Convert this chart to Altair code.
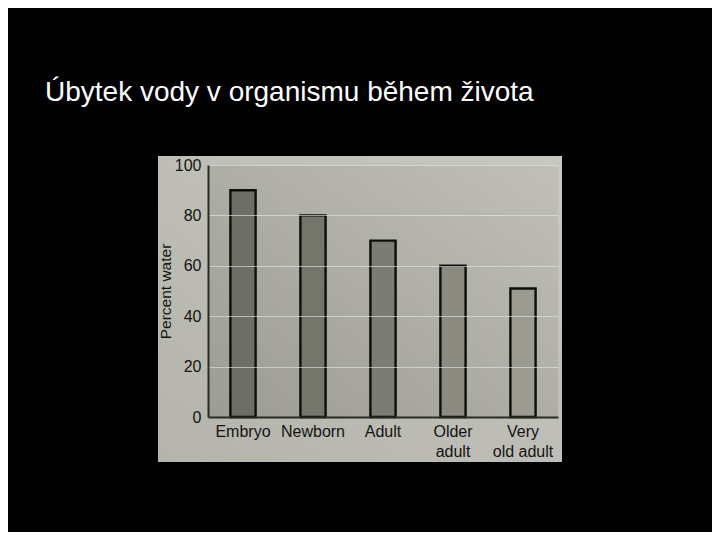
import altair as alt
import pandas as pd

categories = ["Embryo", "Newborn", "Adult", "Older\nadult", "Very\nold adult"]
percent_water = [90, 80, 70, 60, 51]
y_ticks = [0, 20, 40, 60, 80, 100]
bar_colors = ["#6d6e66", "#74756b", "#7c7c72", "#8a8a80", "#9b9b92"]
title_text = "Úbytek vody v organismu během života"

df = pd.DataFrame({"stage": categories, "water": percent_water})

W, H = 350, 252
FONT = "Liberation Sans"

panel = alt.Chart(pd.DataFrame({"k": [0]})).mark_rect(
    color=alt.Gradient(
        gradient="linear",
        stops=[alt.GradientStop(color="#b4b4ac", offset=0),
               alt.GradientStop(color="#c8c8c0", offset=1)],
        x1=0, x2=1, y1=1, y2=0,
    )
).encode(x=alt.value(-50), x2=alt.value(354), y=alt.value(-9), y2=alt.value(297))

plotbg = alt.Chart(pd.DataFrame({"k": [0]})).mark_rect(
    color=alt.Gradient(
        gradient="linear",
        stops=[alt.GradientStop(color="#9c9c95", offset=0),
               alt.GradientStop(color="#c0c0b8", offset=1)],
        x1=0, x2=1, y1=1, y2=0,
    )
).encode(x=alt.value(0), x2=alt.value(W), y=alt.value(0), y2=alt.value(H))

bars = alt.Chart(df).mark_bar(stroke="#0e0e0b", strokeWidth=2.4).encode(
    x=alt.X("stage:N", sort=categories,
            scale=alt.Scale(paddingInner=0.64, paddingOuter=0.32),
            axis=alt.Axis(title=None, labelAngle=0, labelExpr="split(datum.label, '\\n')",
                          labelFontSize=16, labelColor="#141412", labelFont=FONT,
                          labelPadding=6, labelLineHeight=20, labelBaseline="top",
                          ticks=False, domainColor="#2a2a26", domainWidth=2, zindex=1)),
    y=alt.Y("water:Q", scale=alt.Scale(domain=[0, 100]),
            axis=alt.Axis(title="Percent water", values=y_ticks, ticks=False,
                          labelFontSize=16, labelColor="#141412", labelFont=FONT,
                          labelPadding=7, titleFontSize=15.5, titleFont=FONT,
                          titleFontWeight="normal", titleColor="#141412", titlePadding=1,
                          gridColor="#e4e4de", gridOpacity=0.65, gridWidth=1.2,
                          domainColor="#2a2a26", domainWidth=2, zindex=1)),
    color=alt.Color("stage:N", sort=categories,
                    scale=alt.Scale(domain=categories, range=bar_colors), legend=None),
)

chart = alt.layer(panel, plotbg, bars).properties(
    width=W, height=H,
    background="black",
    padding={"left": 200, "top": 157, "right": 154, "bottom": 115},
    autosize=alt.AutoSizeParams(type="none"),
    title=alt.TitleParams(title_text, anchor="start", frame="group", dx=-163, offset=27,
                          baseline="alphabetic", fontSize=28, font=FONT,
                          fontWeight="normal", color="white"),
).configure_view(stroke=None)

chart.save("out.html", embed_options={"renderer": "svg", "actions": False})
